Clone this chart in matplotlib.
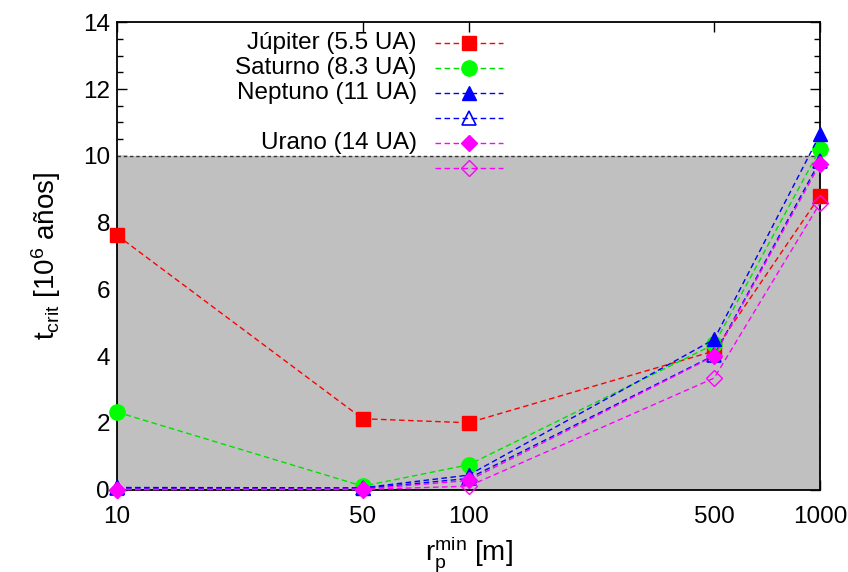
import matplotlib
matplotlib.use("Agg")
import matplotlib.pyplot as plt
from matplotlib.lines import Line2D
from matplotlib.ticker import FixedLocator, MultipleLocator, NullLocator

plt.rcParams['font.family'] = ['Liberation Sans', 'DejaVu Sans']
plt.rcParams['mathtext.default'] = 'regular'
plt.rcParams['font.size'] = 17.5

# minimum planetesimal radius [m]
rp_min = [10, 50, 100, 500, 1000]

# critical time [10^6 years]
t_jupiter = [7.62, 2.12, 2.00, 4.15, 8.80]
t_saturno = [2.32, 0.10, 0.74, 4.35, 10.20]
t_neptuno = [0.06, 0.05, 0.43, 4.50, 10.64]
t_neptuno_b = [0.04, 0.03, 0.33, 4.02, 9.85]
t_urano = [0.00, 0.01, 0.27, 4.00, 9.76]
t_urano_b = [0.00, 0.00, 0.10, 3.34, 8.58]

labels = ["Júpiter (5.5 UA)", "Saturno (8.3 UA)", "Neptuno (11 UA)", "",
          "Urano (14 UA)", ""]

xticks = [10, 50, 100, 500, 1000]
t_limit = 10

fig = plt.figure(figsize=(8.48, 5.72), dpi=100)
ax = fig.add_axes([117 / 848, 1 - 489.5 / 572, (820 - 117) / 848, (489.5 - 22.3) / 572])

ax.axhspan(0, t_limit, color='#c0c0c0', zorder=1.5, lw=0)
ax.axhline(t_limit, color='#333333', ls=(0, (2.5, 2)), lw=1.0, zorder=1.6)

dash = (0, (4, 2.5))
series = [
    (t_jupiter, dict(color='#ff0000', marker='s', ms=10.5, mfc='#ff0000', mec='#ff0000')),
    (t_saturno, dict(color='#00e000', marker='o', ms=11, mfc='#00ff00', mec='#00ff00')),
    (t_neptuno, dict(color='#0000ff', marker='^', ms=10.5, mfc='#0000ff', mec='#0000ff')),
    (t_neptuno_b, dict(color='#0000ff', marker='^', ms=10.5, mfc='none', mec='#0000ff', mew=1.2)),
    (t_urano, dict(color='#ff00ff', marker='D', ms=8.5, mfc='#ff00ff', mec='#ff00ff')),
    (t_urano_b, dict(color='#ff00ff', marker='D', ms=8.5, mfc='none', mec='#ff00ff', mew=1.0)),
]

for i, (vals, style) in enumerate(series):
    ax.plot(rp_min, vals, ls=dash, lw=1.0, clip_on=False, zorder=3 + i * 0.1, **style)

# key: right-aligned labels with line samples to their right
key_text_x = 0.4267
key_line = (0.452, 0.549)
key_y0, key_dy = 0.9563, 0.0537
for i, ((vals, style), lab) in enumerate(zip(series, labels)):
    y = key_y0 - i * key_dy
    ax.add_line(Line2D(key_line, [y, y], transform=ax.transAxes, ls=dash, lw=1.0,
                       color=style['color'], zorder=5, clip_on=False))
    mk = {k: v for k, v in style.items() if k != 'color'}
    ax.add_line(Line2D([sum(key_line) / 2], [y], transform=ax.transAxes, ls='none',
                       zorder=5.1, clip_on=False, **mk))
    if lab:
        ax.text(key_text_x, y, lab, transform=ax.transAxes, ha='right', va='center',
                fontsize=17.5, zorder=5)

ax.set_xscale('log')
ax.set_xlim(10, 1000)
ax.set_ylim(0, 14)
ax.xaxis.set_major_locator(FixedLocator(xticks))
ax.xaxis.set_minor_locator(NullLocator())
ax.set_xticklabels([str(v) for v in xticks])
ax.yaxis.set_major_locator(MultipleLocator(2))
ax.yaxis.set_minor_locator(MultipleLocator(0.5))

ax.tick_params(which='both', direction='in', top=True, right=True, width=1.0)
ax.tick_params(which='major', length=7, labelsize=17.5)
ax.tick_params(axis='x', which='major', pad=12)
ax.tick_params(axis='y', which='major', pad=5)
ax.tick_params(which='minor', length=4)
ax.xaxis.set_zorder(1)
ax.yaxis.set_zorder(1)
for sp in ax.spines.values():
    sp.set_linewidth(1.3)
    sp.set_zorder(2.5)

ax.set_xlabel(r'$r_{p}^{min}$ [m]', fontsize=20, labelpad=4)
ax.set_ylabel(r'$t_{crit}$ [10$^{6}$ años]', fontsize=20, labelpad=14)

fig.savefig('out.png', dpi=100)
